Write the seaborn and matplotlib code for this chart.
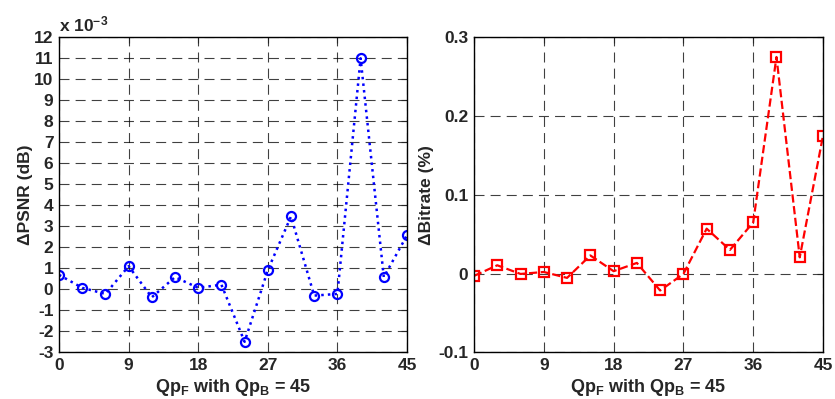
import numpy as np
import pandas as pd
import matplotlib
matplotlib.use("Agg")
import matplotlib.pyplot as plt
import seaborn as sns

# dados
qp_f = [0, 3, 6, 9, 12, 15, 18, 21, 24, 27, 30, 33, 36, 39, 42, 45]
delta_psnr_e3 = [0.69, 0.07, -0.22, 1.1, -0.38, 0.58, 0.07, 0.22, -2.5, 0.91,
                 3.47, -0.3, -0.22, 11.0, 0.58, 2.57]  # x 10^-3 dB
delta_bitrate = [-0.003, 0.0105, -0.0005, 0.002, -0.0055, 0.023, 0.003, 0.0135,
                 -0.0215, -0.0005, 0.057, 0.030, 0.065, 0.275, 0.0206, 0.175]
x_ticks = [0, 9, 18, 27, 36, 45]

df = pd.DataFrame({"qp": qp_f, "psnr": delta_psnr_e3, "bitrate": delta_bitrate})

sns.set_style("white")
plt.rcParams["font.family"] = ["Liberation Sans", "DejaVu Sans"]
plt.rcParams["font.weight"] = "bold"
plt.rcParams["axes.unicode_minus"] = False
plt.rcParams["mathtext.fontset"] = "custom"
plt.rcParams["mathtext.rm"] = "Liberation Sans:bold"
plt.rcParams["mathtext.bf"] = "Liberation Sans:bold"
plt.rcParams["mathtext.default"] = "rm"

fs = 12.5

fig = plt.figure(figsize=(8.35, 3.99), dpi=100)
ax1 = fig.add_axes([59 / 835, 1 - 352.3 / 399, 348 / 835, 315 / 399])
ax2 = fig.add_axes([474 / 835, 1 - 352.3 / 399, 349 / 835, 315 / 399])

sns.lineplot(data=df, x="qp", y="psnr", ax=ax1, color="blue", linestyle=":",
             linewidth=1.8, marker="o", markersize=6.5, markerfacecolor="none",
             markeredgecolor="blue", markeredgewidth=1.6)
sns.lineplot(data=df, x="qp", y="bitrate", ax=ax2, color="red", linestyle="--",
             linewidth=1.6, marker="s", markersize=6.5, markerfacecolor="none",
             markeredgecolor="red", markeredgewidth=1.6)

for ax in (ax1, ax2):
    ax.set_xlim(0, 45)
    ax.set_xticks(x_ticks)
    ax.grid(True, color="black", linestyle=(0, (9, 5.5)), linewidth=0.8, alpha=0.75)
    ax.tick_params(direction="in", length=4, labelsize=fs, width=0.8, pad=4,
                   top=True, right=True)
    for sp in ax.spines.values():
        sp.set_color("black")
        sp.set_linewidth(1.0)
    ax.set_xlabel("Qp$_F$ with Qp$_B$ = 45", fontsize=fs + 0.5, fontweight="bold",
                  labelpad=3)

ax1.set_ylim(-3, 12)
ax1.set_yticks(range(-3, 13))
ax1.set_ylabel("ΔPSNR (dB)", fontsize=fs, fontweight="bold", labelpad=1)
ax1.text(0.0, 1.01, "x 10$^{-3}$", transform=ax1.transAxes, fontsize=fs,
         fontweight="bold", ha="left", va="bottom")

ax2.set_ylim(-0.1, 0.3)
ax2.set_yticks([-0.1, 0, 0.1, 0.2, 0.3])
ax2.set_yticklabels(["-0.1", "0", "0.1", "0.2", "0.3"])
ax2.set_ylabel("ΔBitrate (%)", fontsize=fs, fontweight="bold", labelpad=3)

for ax in (ax1, ax2):
    for lab in ax.get_xticklabels() + ax.get_yticklabels():
        lab.set_fontweight("bold")

fig.savefig("out.png", dpi=100)
